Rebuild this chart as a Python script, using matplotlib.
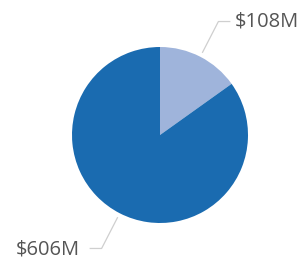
import numpy as np
import matplotlib.pyplot as plt

labels = ["$108M", "$606M"]
values = [108, 606]
colors = ["#9fb4db", "#1a6bb0"]

fig = plt.figure(figsize=(3.02, 2.64), dpi=100)
ax = fig.add_axes([0, 0, 1, 1])

center = (160, 129)
radius = 88
wedges, _ = ax.pie(values, colors=colors, startangle=90, counterclock=False,
                   center=center, radius=radius,
                   wedgeprops=dict(linewidth=0))
ax.set_xlim(0, 302)
ax.set_ylim(0, 264)
ax.set_aspect("equal")
ax.axis("off")

for w, lab in zip(wedges, labels):
    ang = np.deg2rad((w.theta1 + w.theta2) / 2)
    c, s = np.cos(ang), np.sin(ang)
    x0, y0 = center[0] + 1.05 * radius * c, center[1] + 1.05 * radius * s
    x1, y1 = center[0] + 1.45 * radius * c, center[1] + 1.45 * radius * s
    side = 1 if c > 0 else -1
    x2 = x1 + side * 12
    ax.plot([x0, x1, x2], [y0, y1, y1], color="#cfcfcf", lw=0.9,
            solid_capstyle="butt")
    gap = 4 if side > 0 else 10
    ax.text(x2 + side * gap, y1 - (0 if side > 0 else 1.5), lab,
            ha="left" if side > 0 else "right", va="center",
            fontsize=14.5, color="#555555", family="Open Sans")

fig.savefig("out.png", dpi=100)
